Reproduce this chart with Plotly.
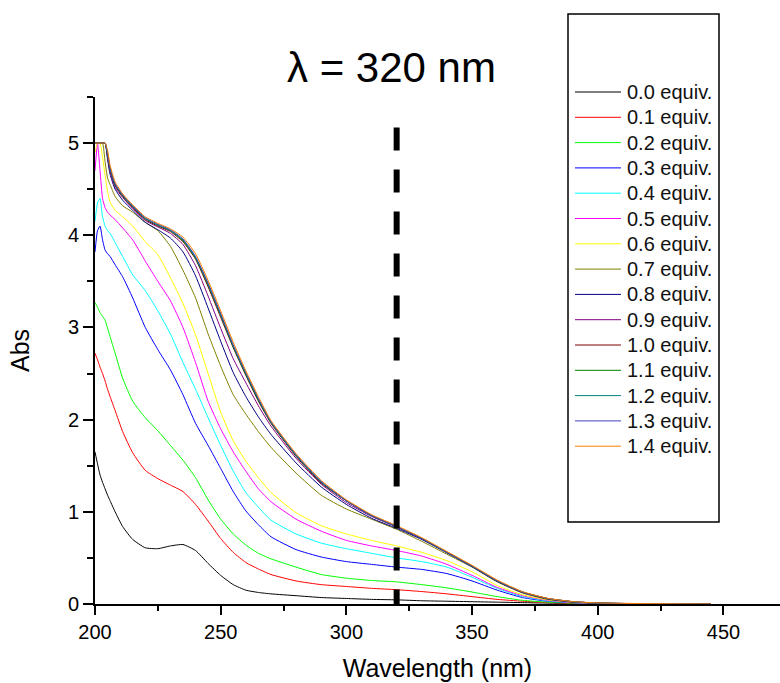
import plotly.graph_objects as go

# Wavelength grid (nm)
wavelength = [200, 201, 202, 203, 204, 205, 206, 208, 211, 215, 220, 225, 230, 235, 240,
              245, 250, 255, 260, 265, 270, 280, 290, 300, 310, 320, 330, 340, 350, 360,
              370, 380, 390, 400, 420, 445]

# Absorbance spectra for each titration step
abs_00 = [1.65, 1.52, 1.40, 1.32, 1.25, 1.18, 1.12, 1.00, 0.84, 0.70, 0.61, 0.60, 0.63, 0.645, 0.58,
          0.44, 0.31, 0.21, 0.15, 0.125, 0.11, 0.09, 0.07, 0.06, 0.05, 0.045, 0.035, 0.03, 0.025, 0.02,
          0.015, 0.01, 0.005, 0.0, 0.0, 0.0]
abs_01 = [2.72, 2.65, 2.57, 2.50, 2.42, 2.33, 2.25, 2.10, 1.87, 1.64, 1.45, 1.36, 1.29, 1.22, 1.08,
          0.90, 0.71, 0.56, 0.45, 0.38, 0.32, 0.25, 0.21, 0.19, 0.17, 0.155, 0.135, 0.11, 0.08, 0.05,
          0.03, 0.015, 0.008, 0.004, 0.0, 0.0]
abs_02 = [3.27, 3.22, 3.16, 3.12, 3.08, 2.99, 2.90, 2.72, 2.45, 2.20, 2.02, 1.88, 1.72, 1.56, 1.37,
          1.13, 0.92, 0.76, 0.64, 0.55, 0.49, 0.40, 0.32, 0.28, 0.255, 0.24, 0.21, 0.175, 0.13, 0.08,
          0.04, 0.02, 0.01, 0.005, 0.0, 0.0]
abs_03 = [3.82, 4.05, 4.10, 3.95, 3.84, 3.80, 3.77, 3.68, 3.55, 3.32, 3.00, 2.76, 2.54, 2.27, 1.96,
          1.72, 1.47, 1.22, 1.01, 0.86, 0.73, 0.59, 0.51, 0.46, 0.43, 0.40, 0.375, 0.33, 0.25, 0.15,
          0.07, 0.03, 0.015, 0.007, 0.0, 0.0]
abs_04 = [4.15, 4.35, 4.40, 4.20, 4.10, 4.05, 4.02, 3.92, 3.77, 3.57, 3.40, 3.18, 2.93, 2.62, 2.33,
          2.02, 1.72, 1.44, 1.21, 1.05, 0.91, 0.76, 0.66, 0.60, 0.55, 0.50, 0.46, 0.40, 0.29, 0.17,
          0.08, 0.035, 0.015, 0.007, 0.0, 0.0]
abs_05 = [4.70, 5.00, 4.70, 4.40, 4.30, 4.25, 4.22, 4.17, 4.08, 3.95, 3.72, 3.50, 3.29, 3.00, 2.62,
          2.20, 1.90, 1.65, 1.44, 1.25, 1.11, 0.92, 0.79, 0.69, 0.63, 0.58, 0.52, 0.43, 0.31, 0.18,
          0.09, 0.04, 0.015, 0.007, 0.0, 0.0]
abs_06 = [4.90, 5.00, 5.00, 4.85, 4.65, 4.48, 4.36, 4.27, 4.20, 4.10, 3.93, 3.79, 3.54, 3.26, 2.92,
          2.50, 2.08, 1.77, 1.55, 1.37, 1.21, 0.99, 0.85, 0.76, 0.69, 0.63, 0.56, 0.47, 0.35, 0.20,
          0.10, 0.045, 0.02, 0.008, 0.0, 0.0]
abs_07 = [5.00, 5.00, 5.00, 5.00, 4.80, 4.62, 4.55, 4.42, 4.32, 4.25, 4.14, 4.05, 3.88, 3.62, 3.32,
          2.93, 2.58, 2.27, 2.06, 1.87, 1.70, 1.42, 1.18, 1.03, 0.92, 0.81, 0.68, 0.54, 0.40, 0.24,
          0.12, 0.05, 0.02, 0.01, 0.0, 0.0]
abs_08 = [5.00, 5.00, 5.00, 5.00, 5.00, 4.82, 4.66, 4.50, 4.38, 4.27, 4.14, 4.06, 3.97, 3.82, 3.56,
          3.21, 2.85, 2.51, 2.25, 2.03, 1.84, 1.53, 1.27, 1.08, 0.93, 0.82, 0.70, 0.555, 0.405, 0.245,
          0.125, 0.055, 0.022, 0.009, 0.002, 0.0]
abs_09 = [5.00, 5.00, 5.00, 5.00, 5.00, 4.85, 4.69, 4.52, 4.41, 4.29, 4.16, 4.09, 4.02, 3.90, 3.67,
          3.34, 2.99, 2.66, 2.40, 2.15, 1.93, 1.58, 1.30, 1.10, 0.95, 0.835, 0.705, 0.56, 0.41, 0.25,
          0.128, 0.058, 0.024, 0.01, 0.003, 0.0]
abs_10 = [5.00, 5.00, 5.00, 5.00, 5.00, 4.87, 4.71, 4.54, 4.42, 4.30, 4.17, 4.10, 4.04, 3.93, 3.74,
          3.44, 3.11, 2.78, 2.48, 2.20, 1.96, 1.60, 1.31, 1.12, 0.96, 0.84, 0.71, 0.56, 0.41, 0.25,
          0.13, 0.06, 0.025, 0.01, 0.003, 0.0]
abs_11 = [5.00, 5.00, 5.00, 5.00, 5.00, 4.88, 4.72, 4.55, 4.43, 4.31, 4.18, 4.11, 4.05, 3.94, 3.75,
          3.46, 3.13, 2.79, 2.49, 2.21, 1.97, 1.61, 1.32, 1.12, 0.96, 0.84, 0.71, 0.56, 0.41, 0.25,
          0.13, 0.06, 0.025, 0.01, 0.003, 0.0]
abs_12 = [5.00, 5.00, 5.00, 5.00, 5.00, 4.88, 4.72, 4.55, 4.43, 4.31, 4.18, 4.11, 4.05, 3.95, 3.76,
          3.47, 3.14, 2.80, 2.50, 2.22, 1.97, 1.61, 1.32, 1.12, 0.96, 0.84, 0.71, 0.56, 0.41, 0.25,
          0.13, 0.06, 0.025, 0.01, 0.003, 0.0]
abs_13 = [5.00, 5.00, 5.00, 5.00, 5.00, 4.89, 4.73, 4.56, 4.44, 4.32, 4.19, 4.12, 4.06, 3.96, 3.77,
          3.48, 3.15, 2.81, 2.51, 2.23, 1.98, 1.62, 1.33, 1.12, 0.96, 0.84, 0.71, 0.56, 0.41, 0.25,
          0.13, 0.06, 0.025, 0.01, 0.003, 0.0]
abs_14 = [5.00, 5.00, 5.00, 5.00, 5.00, 4.92, 4.76, 4.58, 4.45, 4.33, 4.20, 4.13, 4.07, 3.98, 3.80,
          3.51, 3.18, 2.84, 2.53, 2.25, 1.99, 1.63, 1.34, 1.13, 0.97, 0.85, 0.72, 0.57, 0.42, 0.26,
          0.135, 0.062, 0.027, 0.012, 0.004, 0.0]

spectra = [abs_00, abs_01, abs_02, abs_03, abs_04, abs_05, abs_06, abs_07,
           abs_08, abs_09, abs_10, abs_11, abs_12, abs_13, abs_14]
labels = ["0.0 equiv.", "0.1 equiv.", "0.2 equiv.", "0.3 equiv.", "0.4 equiv.",
          "0.5 equiv.", "0.6 equiv.", "0.7 equiv.", "0.8 equiv.", "0.9 equiv.",
          "1.0 equiv.", "1.1 equiv.", "1.2 equiv.", "1.3 equiv.", "1.4 equiv."]
colors = ["#000000", "#FF0000", "#00FF00", "#0000FF", "#00FFFF", "#FF00FF", "#FFFF00",
          "#808000", "#000080", "#800080", "#800000", "#008000", "#008080", "#4040C0",
          "#FF8000"]

marker_wavelength = 320
marker_top = 5.17
title_text = "λ = 320 nm"

FONT = "Arial, Liberation Sans, sans-serif"

# plot-area geometry in pixels (used for the legend block placed in paper space)
L, R, T, B = 95, 780, 97, 604


def px_x(p):
    return (p - L) / (R - L)


def px_y(p):
    return (B - p) / (B - T)


fig = go.Figure()
for y, name, c in zip(spectra, labels, colors):
    fig.add_trace(go.Scatter(
        x=wavelength, y=y, name=name, mode="lines", showlegend=False,
        line=dict(color=c, width=1, shape="spline", smoothing=0.5),
    ))

# vertical dashed marker at the selected wavelength
fig.add_shape(type="line", xref="x", yref="y",
              x0=marker_wavelength, x1=marker_wavelength, y0=marker_top, y1=0,
              line=dict(color="black", width=6, dash="23px,19px"))

# legend: framed box with a line sample and label per spectrum
fig.add_shape(type="rect", xref="paper", yref="paper",
              x0=px_x(568), x1=px_x(719), y0=px_y(522), y1=px_y(14),
              line=dict(color="black", width=1.5), fillcolor="rgba(0,0,0,0)")
row0, row_step = 92, 25.3
for i, (name, c) in enumerate(zip(labels, colors)):
    yy = px_y(row0 + i * row_step)
    fig.add_shape(type="line", xref="paper", yref="paper",
                  x0=px_x(575), x1=px_x(621), y0=yy, y1=yy,
                  line=dict(color=c, width=1))
    fig.add_annotation(text=name, xref="paper", yref="paper", x=px_x(625), y=yy,
                       showarrow=False, xanchor="left", yanchor="middle",
                       font=dict(family=FONT, size=20, color="#111111"))

fig.add_annotation(text=title_text, xref="paper", yref="paper",
                   x=px_x(391), y=px_y(68), showarrow=False,
                   xanchor="center", yanchor="middle",
                   font=dict(family=FONT, size=42, color="black"))

axis_common = dict(
    showline=True, linecolor="black", linewidth=2,
    ticks="outside", tickcolor="black", tickwidth=2,
    showgrid=False, zeroline=False,
    tickfont=dict(family=FONT, size=20, color="black"),
)

fig.update_xaxes(
    range=[200, 472.5], tickvals=[200, 250, 300, 350, 400, 450], ticklen=9,
    minor=dict(ticks="outside", dtick=25, tick0=200, ticklen=5, tickwidth=2, tickcolor="black"),
    title=dict(text="Wavelength (nm)", font=dict(family=FONT, size=25, color="black"), standoff=17),
    **axis_common,
)
fig.update_yaxes(
    range=[0, 5.5], tickvals=[0, 1, 2, 3, 4, 5], ticklen=10,
    minor=dict(ticks="outside", dtick=0.5, tick0=0, ticklen=6, tickwidth=2, tickcolor="black"),
    title=dict(text="Abs", font=dict(family=FONT, size=25, color="black"), standoff=31),
    **axis_common,
)

fig.update_layout(
    width=780, height=683,
    margin=dict(l=L, r=780 - R, t=T, b=683 - B),
    plot_bgcolor="white", paper_bgcolor="white",
    showlegend=False,
)

fig.write_html("out.html")
